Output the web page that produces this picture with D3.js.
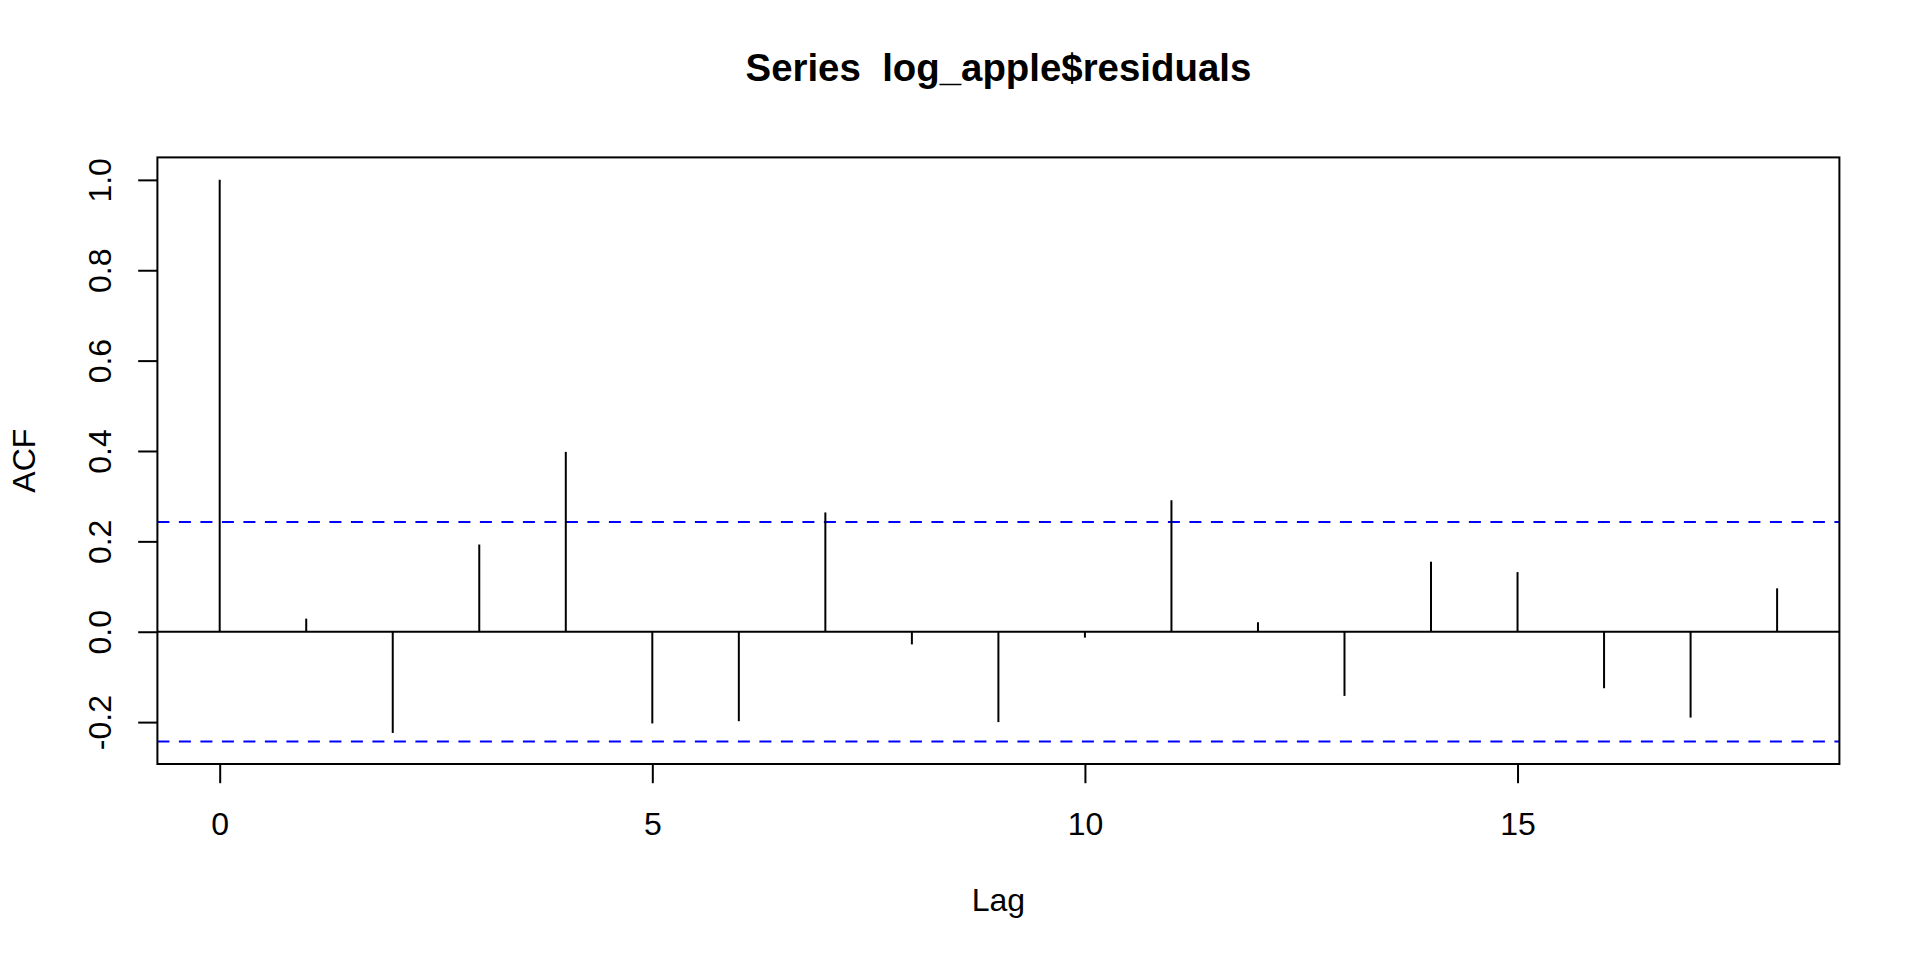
<!DOCTYPE html>
<html>
<head>
<meta charset="utf-8">
<script src="https://cdn.jsdelivr.net/npm/d3@7"></script>
<style>
  html, body { margin: 0; padding: 0; background: #fff; }
  svg { display: block; font-family: "Liberation Sans", Arial, Helvetica, sans-serif; }
</style>
</head>
<body>
<script>
// ---- data ----
const lags = [0, 1, 2, 3, 4, 5, 6, 7, 8, 9, 10, 11, 12, 13, 14, 15, 16, 17, 18];
const acfValues = [1.000, 0.029, -0.224, 0.193, 0.398, -0.203, -0.198, 0.264, -0.028, -0.200,
                   -0.013, 0.291, 0.021, -0.142, 0.155, 0.132, -0.125, -0.190, 0.096];
const ciBound = 0.243;
const xTicks = [0, 5, 10, 15];
const yTicks = [-0.2, 0.0, 0.2, 0.4, 0.6, 0.8, 1.0];
const titleText = "Series  log_apple$residuals";
const xLabel = "Lag";
const yLabel = "ACF";

// ---- layout ----
const W = 1920, H = 960;
const plotL = 157.4, plotR = 1839.4, plotT = 157.4, plotB = 764;
const fs = 32;

const svg = d3.select("body").append("svg").attr("width", W).attr("height", H);

const xPad = (d3.max(lags) - d3.min(lags)) * 0.04;
const x = d3.scaleLinear()
  .domain([d3.min(lags) - xPad, d3.max(lags) + xPad])
  .range([plotL, plotR]);
const yMin = Math.min(-ciBound, d3.min(acfValues)), yMax = Math.max(ciBound, d3.max(acfValues));
const yPad = (yMax - yMin) * 0.04;
const y = d3.scaleLinear()
  .domain([yMin - yPad, yMax + yPad])
  .range([plotB, plotT]);

// confidence lines
svg.append("g").selectAll("line").data([ciBound, -ciBound]).join("line")
  .attr("x1", plotL).attr("x2", plotR)
  .attr("y1", d => y(d)).attr("y2", d => y(d))
  .attr("stroke", "#0000ff").attr("stroke-width", 2)
  .attr("stroke-dasharray", "12,9.5");

// zero line
svg.append("line")
  .attr("x1", plotL).attr("x2", plotR)
  .attr("y1", y(0)).attr("y2", y(0))
  .attr("stroke", "#000").attr("stroke-width", 2);

// stems
svg.append("g").selectAll("line").data(lags).join("line")
  .attr("x1", (d) => x(d)).attr("x2", (d) => x(d))
  .attr("y1", y(0)).attr("y2", (d, i) => y(acfValues[i]))
  .attr("stroke", "#000").attr("stroke-width", 2);

// box
svg.append("rect")
  .attr("x", plotL).attr("y", plotT)
  .attr("width", plotR - plotL).attr("height", plotB - plotT)
  .attr("fill", "none").attr("stroke", "#000").attr("stroke-width", 2);

// x axis
const gx = svg.append("g")
  .attr("transform", `translate(0,${plotB})`)
  .call(d3.axisBottom(x).tickValues(xTicks).tickSize(19.2).tickPadding(28.7).tickFormat(d3.format("d")));
gx.select(".domain").remove();
gx.selectAll(".tick line").attr("stroke", "#000").attr("stroke-width", 2);
gx.selectAll(".tick text").attr("fill", "#000").style("font-size", fs + "px")
  .style("font-family", "'Liberation Sans', Arial, sans-serif");

// y axis (R style: ASCII hyphen for negatives)
const yFmt = d => d.toFixed(1);
const gy = svg.append("g")
  .attr("transform", `translate(${plotL},0)`)
  .call(d3.axisLeft(y).tickValues(yTicks).tickSize(19.2).tickFormat(yFmt));
gy.select(".domain").remove();
gy.selectAll(".tick line").attr("stroke", "#000").attr("stroke-width", 2);
gy.selectAll(".tick text")
  .attr("x", 0).attr("y", -46.4).attr("dy", 0)
  .attr("transform", "rotate(-90)")
  .attr("text-anchor", "middle")
  .attr("fill", "#000").style("font-size", fs + "px")
  .style("font-family", "'Liberation Sans', Arial, sans-serif");

// title
svg.append("text")
  .attr("x", (plotL + plotR) / 2).attr("y", 81)
  .attr("text-anchor", "middle")
  .style("white-space", "pre")
  .style("font-weight", "bold")
  .style("font-size", (fs * 1.2) + "px")
  .text(titleText);

// axis titles
svg.append("text")
  .attr("x", (plotL + plotR) / 2).attr("y", 911)
  .attr("text-anchor", "middle")
  .style("font-size", fs + "px")
  .text(xLabel);

svg.append("text")
  .attr("transform", `translate(35,${(plotT + plotB) / 2}) rotate(-90)`)
  .attr("text-anchor", "middle")
  .style("font-size", fs + "px")
  .text(yLabel);
</script>
</body>
</html>
